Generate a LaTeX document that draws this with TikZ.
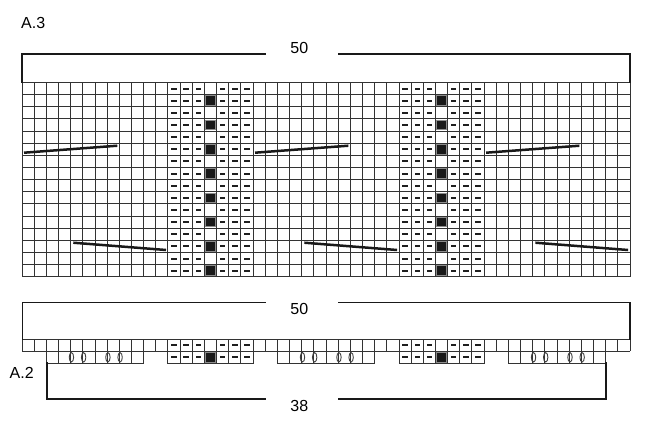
\documentclass[tikz,border=0pt]{standalone}
\usepackage{fontspec}
\setmainfont{Liberation Sans}
\begin{document}
\begin{tikzpicture}[x=1pt,y=-1pt,
  gridln/.style={draw=black!80, line width=0.9pt},
  bracketln/.style={draw=black!90, line width=1.8pt, line cap=rect},
  cableln/.style={draw=black!90, line width=2.5pt},
  dashmark/.style={fill=black!88},
  blacksq/.style={fill=black!90, draw=black!45, line width=0.9pt},
  ovalmark/.style={draw=black!75, line width=0.9pt},
  lbl/.style={font=\fontsize{16}{18}\selectfont, inner sep=0pt}]
\useasboundingbox[fill=white] (0,0) rectangle (650,424);
\def\X{22}\def\W{12.16}
% ---------- A.3 top chart ----------
\def\Yt{82.5}\def\Ht{12.14}
\foreach \i in {0,...,50}
  \draw[gridln] ({\X+\i*\W},\Yt) -- ++(0,{16*\Ht});
\foreach \j in {0,...,16}
  \draw[gridln] (\X,{\Yt+\j*\Ht}) -- ({\X+50*\W},{\Yt+\j*\Ht});
\foreach \c in {12,13,14,16,17,18,31,32,33,35,36,37}
  \foreach \r in {0,...,15}
    \fill[dashmark] ({\X+(\c+0.5)*\W-2.7},{\Yt+(\r+0.5)*\Ht-1}) rectangle ++(5.4,2);
\foreach \c in {15,34}
  \foreach \r in {1,3,...,15}
    \draw[blacksq] ({\X+\c*\W+1.3},{\Yt+\r*\Ht+1.3}) rectangle ({\X+(\c+1)*\W-1.3},{\Yt+(\r+1)*\Ht-1.3});
% cable lines
\foreach \k in {0,1,2}{
  \draw[cableln] ({24+\k*19*\W},152.7) -- ({117.3+\k*19*\W},145.7);
  \draw[cableln] ({73.3+\k*19*\W},242.7) -- ({166+\k*19*\W},250);
}
% top bracket
\draw[bracketln] (22,82.5) -- (22,54) -- (265,54);
\draw[bracketln] (338.5,54) -- (630,54) -- (630,82.5);
\node[lbl] (topfifty) at (299.3,48.3) {50};
\node[lbl, anchor=west] (labA3) at (21,22.7) {A.3};
% ---------- A.2 bottom chart ----------
\def\Ya{339.3}\def\Hb{12}
\foreach \i in {0,...,50}
  \draw[gridln] ({\X+\i*\W},\Ya) -- ++(0,\Hb);
\draw[gridln] (\X,\Ya) -- ({\X+50*\W},\Ya);
\draw[gridln] (\X,{\Ya+\Hb}) -- ({\X+50*\W},{\Ya+\Hb});
\foreach \a/\b in {2/9,12/18,21/28,31/37,40/47}{
  \foreach \c in {\a,...,\b}
    \draw[gridln] ({\X+\c*\W},{\Ya+\Hb}) rectangle ({\X+(\c+1)*\W},{\Ya+2*\Hb});
}
\foreach \c in {12,13,14,16,17,18,31,32,33,35,36,37}
  \foreach \r in {0,1}
    \fill[dashmark] ({\X+(\c+0.5)*\W-2.7},{\Ya+(\r+0.5)*\Hb-1}) rectangle ++(5.4,2);
\foreach \c in {15,34}
  \draw[blacksq] ({\X+\c*\W+1.3},{\Ya+\Hb+1.3}) rectangle ({\X+(\c+1)*\W-1.3},{\Ya+2*\Hb-1.3});
\foreach \c in {4,5,7,8,23,24,26,27,42,43,45,46}
  \draw[ovalmark] ({\X+\c*\W+0.8},{\Ya+1.5*\Hb}) ellipse [x radius=2.2, y radius=4.7];
% bottom brackets
\draw[bracketln] (22.5,339.3) -- (22.5,302.5) -- (265,302.5);
\draw[bracketln] (338.5,302.5) -- (630,302.5) -- (630,339.3);
\node[lbl] (botfifty) at (299.3,309.3) {50};
\draw[bracketln] (47,363.3) -- (47,399.3) -- (265,399.3);
\draw[bracketln] (338.5,399.3) -- (605.7,399.3) -- (605.7,363.3);
\node[lbl] (thirtyeight) at (299.3,406) {38};
\node[lbl, anchor=west] (labA2) at (9.5,372.7) {A.2};
\end{tikzpicture}
\end{document}
